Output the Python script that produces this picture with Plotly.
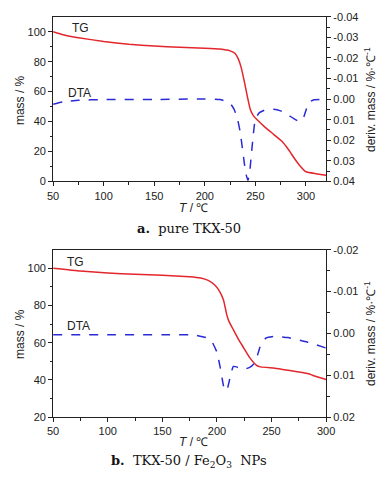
import plotly.graph_objects as go

# ---- Panel a: pure TKX-50 ----
a_tg_T = [50, 60, 75, 100, 125, 150, 175, 200, 215, 225, 230, 233, 236, 239, 242, 245, 248, 252, 260, 268, 276, 282, 289, 294, 300, 310, 320]
a_tg_mass = [100, 98, 96, 93.5, 91.6, 90.4, 89.6, 89.0, 88.4, 87.2, 85.5, 82, 76, 67, 57, 48, 44, 41, 36, 31.5, 27, 22, 15, 10.5, 6.5, 5.2, 4.2]
a_dta_T = [50, 60, 75, 100, 150, 200, 215, 225, 229, 232, 235, 238, 240.5, 242.7, 244.5, 246, 248, 250, 254, 260, 268, 275, 282, 288, 293, 296, 298, 300, 303, 308, 320]
a_dta_val = [0.0025, 0.0013, 0.0006, 0.0002, 0.0002, -0.0001, 0.0002, 0.002, 0.005, 0.009, 0.016, 0.027, 0.036, 0.0395, 0.035, 0.027, 0.017, 0.0095, 0.0066, 0.0052, 0.0049, 0.0057, 0.0075, 0.0095, 0.0108, 0.0105, 0.0085, 0.0055, 0.0015, 0.0003, 0.0002]

# ---- Panel b: TKX-50 / Fe2O3 NPs ----
b_tg_T = [50, 75, 100, 125, 150, 175, 185, 192, 198, 202, 206, 209, 211, 215, 220, 224, 230, 236, 240, 253, 265, 283, 290, 300]
b_tg_mass = [100, 98.5, 97.5, 96.8, 96.3, 95.5, 94.8, 93.5, 91, 88, 83, 75, 71.5, 67, 61.5, 57.7, 52, 48, 47, 46.3, 45.2, 43.4, 42, 40.2]
b_dta_T = [50, 100, 150, 180, 190, 195, 200, 203.5, 206, 208, 210, 212.5, 215, 218, 222.5, 226, 230, 233, 236, 238.5, 241, 245, 253, 265, 283, 300]
b_dta_val = [0.0003, 0.0003, 0.0003, 0.0004, 0.0010, 0.0018, 0.0045, 0.0088, 0.0125, 0.0138, 0.0128, 0.0100, 0.0079, 0.0080, 0.0085, 0.0085, 0.0081, 0.0075, 0.0062, 0.0040, 0.0022, 0.0011, 0.0007, 0.0010, 0.0021, 0.0035]

# ---- tick labels ----
a_x_ticks = [50, 100, 150, 200, 250, 300]
b_x_ticks = [50, 100, 150, 200, 250, 300]
a_mass_ticks = [0, 20, 40, 60, 80, 100]
b_mass_ticks = [20, 40, 60, 80, 100]
a_deriv_ticks = [-0.04, -0.03, -0.02, -0.01, 0.0, 0.01, 0.02, 0.03, 0.04]
a_deriv_text = ["-0.04", "-0.03", "-0.02", "-0.01", "0.00", "0.01", "0.02", "0.03", "0.04"]
b_deriv_ticks = [-0.02, -0.01, 0.0, 0.01, 0.02]
b_deriv_text = ["-0.02", "-0.01", "0.00", "0.01", "0.02"]

RED = "#e3262c"
BLUE = "#2b2bd6"
AXC = "#222222"
FONT = "Liberation Sans, Arial, sans-serif"
TICKF = dict(family=FONT, size=11, color=AXC)

fig = go.Figure()
fig.add_trace(go.Scatter(x=a_tg_T, y=a_tg_mass, mode="lines", line=dict(color=RED, width=1.5, shape="spline", smoothing=0.4), xaxis="x", yaxis="y", showlegend=False))
fig.add_trace(go.Scatter(x=a_dta_T, y=a_dta_val, mode="lines", line=dict(color=BLUE, width=1.5, dash="dash", shape="spline", smoothing=0.4), xaxis="x", yaxis="y2", showlegend=False))
fig.add_trace(go.Scatter(x=b_tg_T, y=b_tg_mass, mode="lines", line=dict(color=RED, width=1.5, shape="spline", smoothing=0.4), xaxis="x2", yaxis="y3", showlegend=False))
fig.add_trace(go.Scatter(x=b_dta_T, y=b_dta_val, mode="lines", line=dict(color=BLUE, width=1.5, dash="dash", shape="spline", smoothing=0.4), xaxis="x2", yaxis="y4", showlegend=False))

W, H = 389, 478
xd = [49 / W, 333 / W]
top_d = [1 - 180 / H, 1 - 11 / H]
bot_d = [1 - 421.7 / H, 1 - 250 / H]

common_ax = dict(showline=True, linecolor=AXC, linewidth=1, ticks="outside", ticklen=4, tickwidth=1,
                 tickcolor=AXC, showgrid=False, zeroline=False, tickfont=TICKF)


def mn(vals):
    return dict(ticks="outside", ticklen=2.5, tickwidth=1, tickcolor=AXC, tickvals=vals, showgrid=False)


fig.update_layout(
    width=W, height=H, margin=dict(l=0, r=0, t=0, b=0),
    paper_bgcolor="white", plot_bgcolor="white",
    xaxis=dict(domain=xd, anchor="y", range=[50, 320], tickmode="array", tickvals=a_x_ticks,
               minor=mn([75, 125, 175, 225, 275]), mirror=True, **common_ax),
    yaxis=dict(domain=top_d, anchor="x", range=[0, 110], tickmode="array", tickvals=a_mass_ticks,
               minor=mn([10, 30, 50, 70, 90]), **common_ax),
    yaxis2=dict(anchor="x", overlaying="y", side="right", range=[0.04, -0.04], tickmode="array",
                tickvals=a_deriv_ticks, ticktext=a_deriv_text,
                minor=mn([-0.035, -0.025, -0.015, -0.005, 0.005, 0.015, 0.025, 0.035]), **common_ax),
    xaxis2=dict(domain=xd, anchor="y3", range=[50, 300], tickmode="array", tickvals=b_x_ticks,
                minor=mn([75, 125, 175, 225, 275]), mirror=True, **common_ax),
    yaxis3=dict(domain=bot_d, anchor="x2", range=[20, 110], tickmode="array", tickvals=b_mass_ticks,
                minor=mn([30, 50, 70, 90]), **common_ax),
    yaxis4=dict(anchor="x2", overlaying="y3", side="right", range=[0.02, -0.02], tickmode="array",
                tickvals=b_deriv_ticks, ticktext=b_deriv_text,
                minor=mn([-0.015, -0.005, 0.005, 0.015]), **common_ax),
)

TF = dict(family=FONT, size=12, color=AXC)
SERIF = "DejaVu Serif, Liberation Serif, serif"


def px(xp, yp):
    return xp / W, 1 - yp / H


anns = [
    # panel a
    (77, 23, "TG", 0), (76, 89, "DTA", 0),
    (14, 96, "mass / %", -90), (378, 96, "deriv. mass / %·℃<sup>-1</sup>", -90),
    (195, 207, "<i>T</i> / ℃", 0),
    # panel b
    (72, 263, "TG", 0), (75, 328, "DTA", 0),
    (14, 336, "mass / %", -90), (378, 336, "deriv. mass / %·℃<sup>-1</sup>", -90),
    (195, 447, "<i>T</i> / ℃", 0),
]
for xp, yp, txt, ang in anns:
    xx, yy = px(xp, yp)
    fig.add_annotation(x=xx, y=yy, xref="paper", yref="paper", text=txt, showarrow=False,
                       textangle=ang, font=TF, xanchor="center", yanchor="middle")

for xp, yp, txt in [(190, 228, "<b>a.</b>  pure TKX-50"), (190, 467, "<b>b.</b>  TKX-50 / Fe<sub>2</sub>O<sub>3</sub>  NPs")]:
    xx, yy = px(xp, yp)
    fig.add_annotation(x=xx, y=yy, xref="paper", yref="paper", text=txt, showarrow=False,
                       font=dict(family=SERIF, size=13, color="#111"), xanchor="center", yanchor="middle")

fig.write_html("out.html", config={"displayModeBar": False},
               post_script="document.body.style.margin='0';document.body.style.overflow='hidden';")
